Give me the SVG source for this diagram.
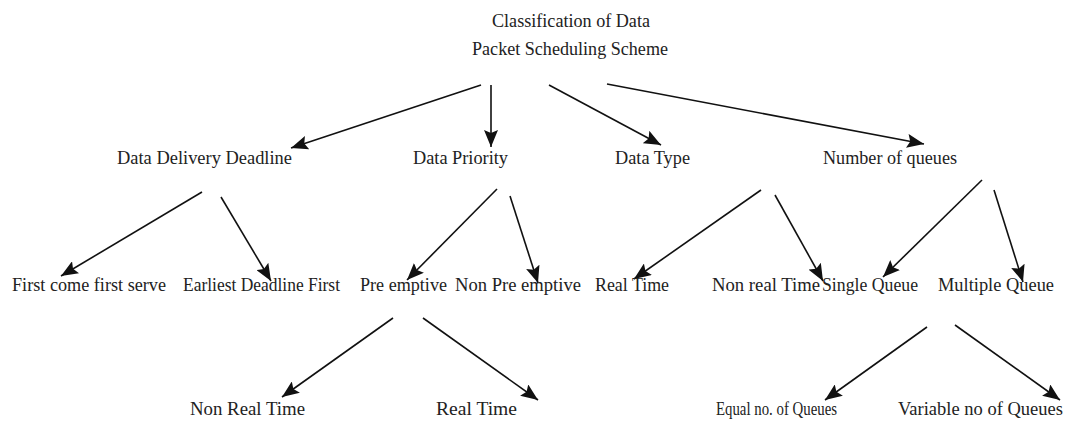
<svg xmlns="http://www.w3.org/2000/svg" width="1067" height="421" viewBox="0 0 1067 421">
  <style>
    text { font-family: "Liberation Serif", "Times New Roman", serif; font-size: 18px; fill: #222; }
    .edge { stroke: #111; stroke-width: 1.6; fill: none; marker-end: url(#head); }
  </style>
  <defs>
    <marker id="head" markerUnits="userSpaceOnUse" markerWidth="18" markerHeight="14" refX="17" refY="7" orient="auto">
      <path d="M0,0 L17,7 L0,14 L3,7 z" fill="#111"/>
    </marker>
  </defs>
  <rect width="1067" height="421" fill="#fff"/>

  <!-- connectors -->
  <g id="connectors">
    <line class="edge" x1="481" y1="85" x2="291" y2="148"/>
    <line class="edge" x1="491" y1="85" x2="491" y2="147"/>
    <line class="edge" x1="549" y1="85" x2="661" y2="145"/>
    <line class="edge" x1="607" y1="84" x2="924" y2="144"/>

    <line class="edge" x1="202" y1="192" x2="61" y2="276"/>
    <line class="edge" x1="221" y1="197" x2="271" y2="281"/>
    <line class="edge" x1="497" y1="189" x2="407" y2="280"/>
    <line class="edge" x1="510" y1="196" x2="538" y2="283"/>
    <line class="edge" x1="761" y1="190" x2="634" y2="279"/>
    <line class="edge" x1="775" y1="195" x2="823" y2="281"/>
    <line class="edge" x1="982" y1="180" x2="883" y2="277"/>
    <line class="edge" x1="994" y1="190" x2="1023" y2="282"/>

    <line class="edge" x1="393" y1="318" x2="282" y2="397"/>
    <line class="edge" x1="423" y1="318" x2="538" y2="400"/>
    <line class="edge" x1="927" y1="327" x2="825" y2="400"/>
    <line class="edge" x1="955" y1="325" x2="1060" y2="400"/>
  </g>

  <!-- root -->
  <g id="root">
    <text x="492" y="27" textLength="158" lengthAdjust="spacingAndGlyphs">Classification of Data</text>
    <text x="472" y="55" textLength="196" lengthAdjust="spacingAndGlyphs">Packet Scheduling Scheme</text>
  </g>

  <!-- criteria -->
  <g id="data-delivery-deadline"><text x="117" y="164" textLength="175" lengthAdjust="spacingAndGlyphs">Data Delivery Deadline</text></g>
  <g id="data-priority"><text x="413" y="164" textLength="95" lengthAdjust="spacingAndGlyphs">Data Priority</text></g>
  <g id="data-type"><text x="615" y="164" textLength="75" lengthAdjust="spacingAndGlyphs">Data Type</text></g>
  <g id="number-of-queues"><text x="823" y="164" textLength="134" lengthAdjust="spacingAndGlyphs">Number of queues</text></g>

  <!-- schemes -->
  <g id="fcfs"><text x="12" y="291" textLength="154" lengthAdjust="spacingAndGlyphs">First come first serve</text></g>
  <g id="edf"><text x="183" y="291" textLength="157" lengthAdjust="spacingAndGlyphs">Earliest Deadline First</text></g>
  <g id="pre-emptive"><text x="360" y="291" textLength="87" lengthAdjust="spacingAndGlyphs">Pre emptive</text></g>
  <g id="non-pre-emptive"><text x="455" y="291" textLength="126" lengthAdjust="spacingAndGlyphs">Non Pre emptive</text></g>
  <g id="real-time"><text x="595" y="291" textLength="74" lengthAdjust="spacingAndGlyphs">Real Time</text></g>
  <g id="non-real-time"><text x="712" y="291" textLength="108" lengthAdjust="spacingAndGlyphs">Non real Time</text></g>
  <g id="single-queue"><text x="822" y="291" textLength="96" lengthAdjust="spacingAndGlyphs">Single Queue</text></g>
  <g id="multiple-queue"><text x="938" y="291" textLength="116" lengthAdjust="spacingAndGlyphs">Multiple Queue</text></g>

  <!-- sub-schemes -->
  <g id="pre-emptive-non-real-time"><text x="190" y="415" textLength="115" lengthAdjust="spacingAndGlyphs">Non Real Time</text></g>
  <g id="pre-emptive-real-time"><text x="436" y="415" textLength="81" lengthAdjust="spacingAndGlyphs">Real Time</text></g>
  <g id="equal-queues"><text x="716" y="415" textLength="121" lengthAdjust="spacingAndGlyphs">Equal no. of Queues</text></g>
  <g id="variable-queues"><text x="898" y="415" textLength="165" lengthAdjust="spacingAndGlyphs">Variable no of Queues</text></g>
</svg>
